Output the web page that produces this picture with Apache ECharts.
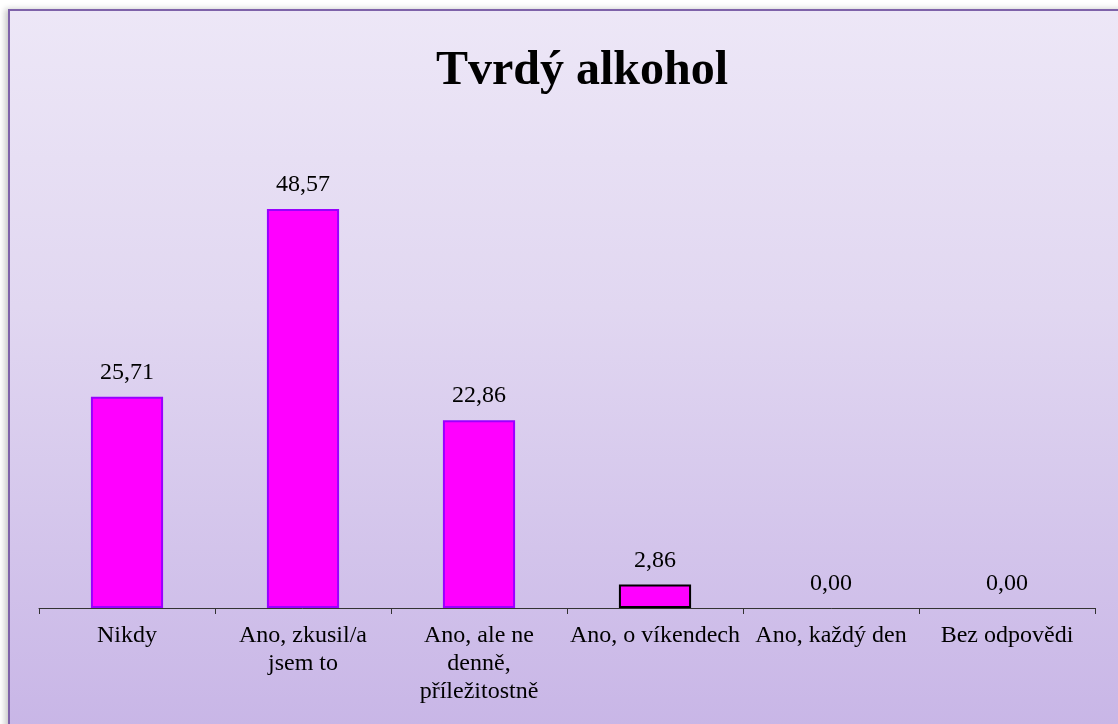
<!DOCTYPE html>
<html>
<head>
<meta charset="utf-8">
<title>Tvrdý alkohol</title>
<script src="https://cdn.jsdelivr.net/npm/echarts@6/dist/echarts.min.js"></script>
<style>
  html, body { margin: 0; padding: 0; width: 1118px; height: 724px; overflow: hidden; background: #ffffff; }
  #frame {
    position: absolute; left: 8px; top: 9px; width: 1130px; height: 740px;
    border-left: 2px solid #7E62A9; border-top: 2px solid #7E62A9;
    background: linear-gradient(to bottom, #EDE7F7 0%, #E1D7F1 40%, #C7B4E6 100%);
    box-shadow: -3px 0 6px rgba(0,0,0,0.22);
  }
  #chart { position: absolute; left: 0; top: 0; width: 1118px; height: 724px; }
</style>
</head>
<body>
<div id="frame"></div>
<div id="chart"></div>
<script>
// Survey answers for "Tvrdý alkohol" (percent of respondents)
const categories = [
  'Nikdy',
  'Ano, zkusil/a\njsem to',
  'Ano, ale ne\ndenně,\npříležitostně',
  'Ano, o víkendech',
  'Ano, každý den',
  'Bez odpovědi'
];
const values = [25.71, 48.57, 22.86, 2.86, 0.00, 0.00];
const barBorders = ['#9A00FF', '#9A00FF', '#9A00FF', '#000000', '#9A00FF', '#9A00FF'];

const serif = '"Liberation Serif", "Times New Roman", serif';

const chart = echarts.init(document.getElementById('chart'), null, { renderer: 'canvas' });

chart.setOption({
  backgroundColor: 'transparent',
  animation: false,
  title: {
    text: 'Tvrdý alkohol',
    left: 436,
    top: 48,
    padding: 0,
    textStyle: { fontFamily: serif, fontSize: 48, fontWeight: 'bold', color: '#000000', lineHeight: 48 }
  },
  grid: { left: 39, right: 23, top: 115, bottom: 116, containLabel: false },
  xAxis: {
    type: 'category',
    data: categories,
    boundaryGap: true,
    axisLine: { show: true, lineStyle: { color: '#333333', width: 1 } },
    axisTick: { show: true, inside: false, length: 6, alignWithLabel: false, lineStyle: { color: '#333333', width: 1 } },
    axisLabel: {
      interval: 0,
      margin: 14,
      fontFamily: serif,
      fontSize: 24,
      lineHeight: 28,
      color: '#000000',
      align: 'center'
    }
  },
  yAxis: {
    type: 'value',
    min: 0,
    max: 60,
    show: false,
    splitLine: { show: false }
  },
  series: [{
    type: 'bar',
    barWidth: '41%',
    data: values.map((v, i) => ({
      value: v,
      itemStyle: {
        color: '#FF00FF',
        borderColor: barBorders[i],
        borderWidth: v === 0 ? 0 : 2,
        opacity: v === 0 ? 0 : 1
      },
      label: { opacity: 1 }
    })),
    label: {
      show: true,
      position: 'top',
      distance: 12,
      fontFamily: serif,
      fontSize: 24,
      lineHeight: 24,
      color: '#000000',
      formatter: p => p.value.toFixed(2).replace('.', ',')
    }
  }]
});
</script>
</body>
</html>
